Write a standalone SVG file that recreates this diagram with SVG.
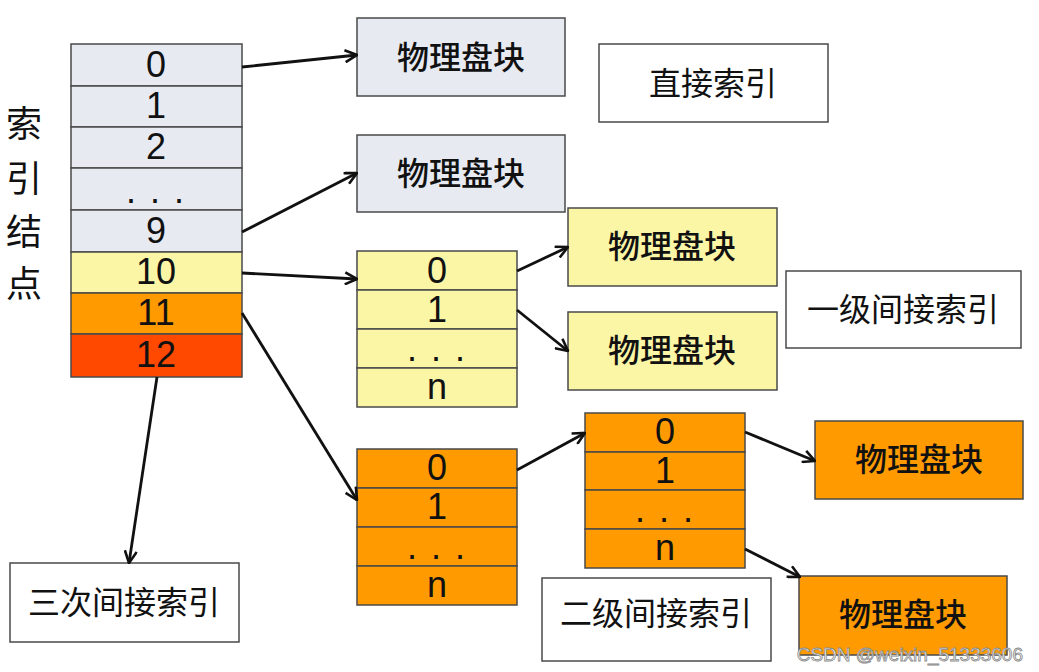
<svg xmlns="http://www.w3.org/2000/svg" width="1039" height="672" viewBox="0 0 1039 672">
<defs>
<marker id="arr" viewBox="0 0 14 14" refX="13" refY="7" markerWidth="14" markerHeight="14" markerUnits="userSpaceOnUse" orient="auto">
<path d="M1,1 L13,7 L1,13" fill="none" stroke="#111" stroke-width="2.6" stroke-linejoin="miter"/>
</marker>
<style>
.cell{stroke:#4a4a4a;stroke-width:1.5}
.g{fill:#E7EAF1}
.y{fill:#FBF5A6}
.o{fill:#FF9A00}
.r{fill:#FF4800}
.w{fill:#fff}
.num{font-family:"Liberation Sans",Arial,sans-serif;font-size:36px;fill:#111;text-anchor:middle}
.lbl{font-family:"Noto Sans CJK SC","Noto Sans",sans-serif;font-size:32px;fill:#111;text-anchor:middle}
.blk{font-weight:500}
.side{font-family:"Noto Sans CJK SC","Noto Sans",sans-serif;font-size:36px;fill:#111;text-anchor:middle}
.con{stroke:#111;stroke-width:2.8;fill:none;marker-end:url(#arr)}
</style>
</defs>
<rect width="1039" height="672" fill="#fff"/>

<g id="index-node-label">
<text class="side" x="24" y="137">索</text>
<text class="side" x="24" y="192">引</text>
<text class="side" x="24" y="245">结</text>
<text class="side" x="24" y="297">点</text>
</g>

<g id="index-node">
<rect class="cell g" x="71" y="44" width="171" height="42"/>
<rect class="cell g" x="71" y="86" width="171" height="41"/>
<rect class="cell g" x="71" y="127" width="171" height="41"/>
<rect class="cell g" x="71" y="168" width="171" height="42"/>
<rect class="cell g" x="71" y="210" width="171" height="42"/>
<rect class="cell y" x="71" y="252" width="171" height="41"/>
<rect class="cell o" x="71" y="293" width="171" height="41"/>
<rect class="cell r" x="71" y="334" width="171" height="43"/>
<text class="num" x="156" y="77">0</text>
<text class="num" x="156" y="118">1</text>
<text class="num" x="156" y="159">2</text>
<text class="num" x="156" y="203" letter-spacing="2">. . .</text>
<text class="num" x="156" y="243">9</text>
<text class="num" x="156" y="284">10</text>
<text class="num" x="156" y="325">11</text>
<text class="num" x="156" y="367">12</text>
</g>

<g id="direct-block-1">
<rect class="cell g" x="357" y="18" width="208" height="78"/>
<text class="lbl blk" x="461" y="69">物理盘块</text>
</g>
<g id="direct-block-2">
<rect class="cell g" x="357" y="135" width="208" height="77"/>
<text class="lbl blk" x="461" y="185">物理盘块</text>
</g>
<g id="direct-label">
<rect class="cell w" x="599" y="44" width="229" height="78"/>
<text class="lbl" x="713" y="95">直接索引</text>
</g>

<g id="single-index">
<rect class="cell y" x="357" y="251" width="160" height="39"/>
<rect class="cell y" x="357" y="290" width="160" height="39"/>
<rect class="cell y" x="357" y="329" width="160" height="39"/>
<rect class="cell y" x="357" y="368" width="160" height="39"/>
<text class="num" x="437" y="283">0</text>
<text class="num" x="437" y="322">1</text>
<text class="num" x="437" y="361" letter-spacing="2">. . .</text>
<text class="num" x="437" y="399">n</text>
</g>
<g id="single-block-1">
<rect class="cell y" x="568" y="208" width="209" height="78"/>
<text class="lbl blk" x="672" y="258">物理盘块</text>
</g>
<g id="single-block-2">
<rect class="cell y" x="568" y="312" width="209" height="78"/>
<text class="lbl blk" x="672" y="362">物理盘块</text>
</g>
<g id="single-label">
<rect class="cell w" x="786" y="271" width="235" height="77"/>
<text class="lbl" x="903" y="321">一级间接索引</text>
</g>

<g id="double-index-1">
<rect class="cell o" x="357" y="449" width="160" height="39"/>
<rect class="cell o" x="357" y="488" width="160" height="39"/>
<rect class="cell o" x="357" y="527" width="160" height="39"/>
<rect class="cell o" x="357" y="566" width="160" height="39"/>
<text class="num" x="437" y="480">0</text>
<text class="num" x="437" y="519">1</text>
<text class="num" x="437" y="559" letter-spacing="2">. . .</text>
<text class="num" x="437" y="597">n</text>
</g>
<g id="double-index-2">
<rect class="cell o" x="585" y="413" width="160" height="39"/>
<rect class="cell o" x="585" y="452" width="160" height="38"/>
<rect class="cell o" x="585" y="490" width="160" height="39"/>
<rect class="cell o" x="585" y="529" width="160" height="39"/>
<text class="num" x="665" y="444">0</text>
<text class="num" x="665" y="483">1</text>
<text class="num" x="665" y="522" letter-spacing="2">. . .</text>
<text class="num" x="665" y="560">n</text>
</g>
<g id="double-block-1">
<rect class="cell o" x="815" y="421" width="208" height="78"/>
<text class="lbl blk" x="919" y="471">物理盘块</text>
</g>
<g id="double-block-2">
<rect class="cell o" x="799" y="576" width="208" height="79"/>
<text class="lbl blk" x="903" y="626">物理盘块</text>
</g>
<g id="double-label">
<rect class="cell w" x="542" y="578" width="229" height="83"/>
<text class="lbl" x="656" y="625">二级间接索引</text>
</g>

<g id="triple-label">
<rect class="cell w" x="10" y="563" width="229" height="79"/>
<text class="lbl" x="124" y="614">三次间接索引</text>
</g>

<g id="connectors">
<line class="con" x1="242" y1="67" x2="357" y2="55"/>
<line class="con" x1="242" y1="232" x2="357" y2="173"/>
<line class="con" x1="242" y1="273" x2="357" y2="279"/>
<line class="con" x1="242" y1="313" x2="357" y2="500"/>
<line class="con" x1="157" y1="377" x2="129" y2="563"/>
<line class="con" x1="517" y1="271" x2="568" y2="247"/>
<line class="con" x1="517" y1="310" x2="568" y2="351"/>
<line class="con" x1="517" y1="470" x2="585" y2="433"/>
<line class="con" x1="745" y1="432" x2="815" y2="461"/>
<line class="con" x1="745" y1="549" x2="800" y2="577"/>
</g>

<text x="1023" y="661" text-anchor="end" font-family="Liberation Sans,Arial,sans-serif" font-size="19" fill="#f4f4f4" stroke="#8a8a8a" stroke-width="0.8">CSDN @weixin_51333606</text>
</svg>
